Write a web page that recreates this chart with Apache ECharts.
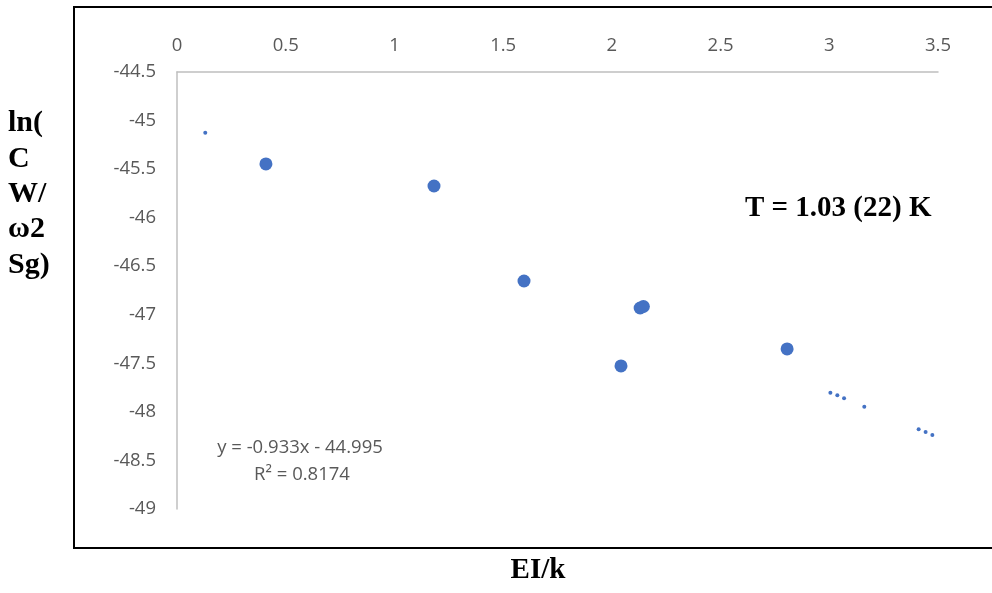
<!DOCTYPE html>
<html>
<head>
<meta charset="utf-8">
<script src="https://cdn.jsdelivr.net/npm/echarts@6/dist/echarts.min.js"></script>
<style>html,body{margin:0;padding:0;background:#fff;}#c{width:992px;height:593px;}</style>
</head>
<body>
<div id="c"></div>
<script>
// Measured data points (EI/k, ln(CW/ω2 Sg))
var dataX = [0.409, 1.182, 1.596, 2.130, 2.145, 2.042, 2.806];
var dataY = [-45.447, -45.674, -46.652, -46.930, -46.915, -47.527, -47.352];
// Visible dotted trendline dots
var trendX = [0.130, 3.005, 3.037, 3.068, 3.161, 3.411, 3.443, 3.474];
var trendY = [-45.125, -47.802, -47.829, -47.860, -47.947, -48.179, -48.207, -48.238];
var xTicks = [0, 0.5, 1, 1.5, 2, 2.5, 3, 3.5];
var yTicks = [-44.5, -45, -45.5, -46, -46.5, -47, -47.5, -48, -48.5, -49];
var yTitleLines = ['ln(', 'C', 'W/', 'ω2', 'Sg)'];
var xTitle = 'EI/k';
var eqText = 'y = -0.933x - 44.995';
var r2Text = 'R² = 0.8174';
var tText = 'T = 1.03 (22) K';

function zip(a, b) { return a.map(function (v, i) { return [v, b[i]]; }); }

var chart = echarts.init(document.getElementById('c'));
var labelStyle = { color: '#595959', fontSize: 18.5, fontFamily: 'Open Sans, Liberation Sans, sans-serif' };
chart.setOption({
  animation: false,
  grid: { left: 177, top: 72, right: 54, bottom: 84 },
  xAxis: {
    type: 'value', position: 'top',
    min: xTicks[0], max: xTicks[xTicks.length - 1], interval: 0.5,
    axisLine: { show: true, lineStyle: { color: '#BFBFBF', width: 1.5 } },
    axisTick: { show: false },
    splitLine: { show: false },
    axisLabel: Object.assign({ margin: 17 }, labelStyle)
  },
  yAxis: {
    type: 'value',
    min: yTicks[yTicks.length - 1], max: yTicks[0], interval: 0.5,
    axisLine: { show: true, onZero: false, lineStyle: { color: '#BFBFBF', width: 1.5 } },
    axisTick: { show: false },
    splitLine: { show: false },
    axisLabel: Object.assign({ margin: 21 }, labelStyle)
  },
  series: [
    { type: 'scatter', data: zip(trendX, trendY), symbolSize: 4, itemStyle: { color: '#4472C4', opacity: 1 }, z: 2 },
    { type: 'scatter', data: zip(dataX, dataY), symbolSize: 13, itemStyle: { color: '#4472C4', opacity: 1 }, z: 3 }
  ],
  graphic: [
    { type: 'rect', shape: { x: 74, y: 7, width: 940, height: 541 }, style: { fill: 'none', stroke: '#000', lineWidth: 2 }, silent: true },
    { type: 'text', x: 745, y: 209, style: { text: tText, font: 'bold 29px "Liberation Serif", serif', fill: '#000', align: 'left', verticalAlign: 'middle' } },
    { type: 'text', x: 300, y: 448, style: { text: eqText, font: '18.5px "Open Sans", sans-serif', fill: '#595959', align: 'center', verticalAlign: 'middle' } },
    { type: 'text', x: 302, y: 475, style: { text: r2Text, font: '18.5px "Open Sans", sans-serif', fill: '#595959', align: 'center', verticalAlign: 'middle' } },
    { type: 'text', x: 538, y: 571, style: { text: xTitle, font: 'bold 29px "Liberation Serif", serif', fill: '#000', align: 'center', verticalAlign: 'middle' } },
    { type: 'text', x: 8, y: 106, style: { text: yTitleLines.join('\n'), font: 'bold 30px "Liberation Serif", serif', fill: '#000', lineHeight: 35.3, align: 'left', verticalAlign: 'top' } }
  ]
});
</script>
</body>
</html>
